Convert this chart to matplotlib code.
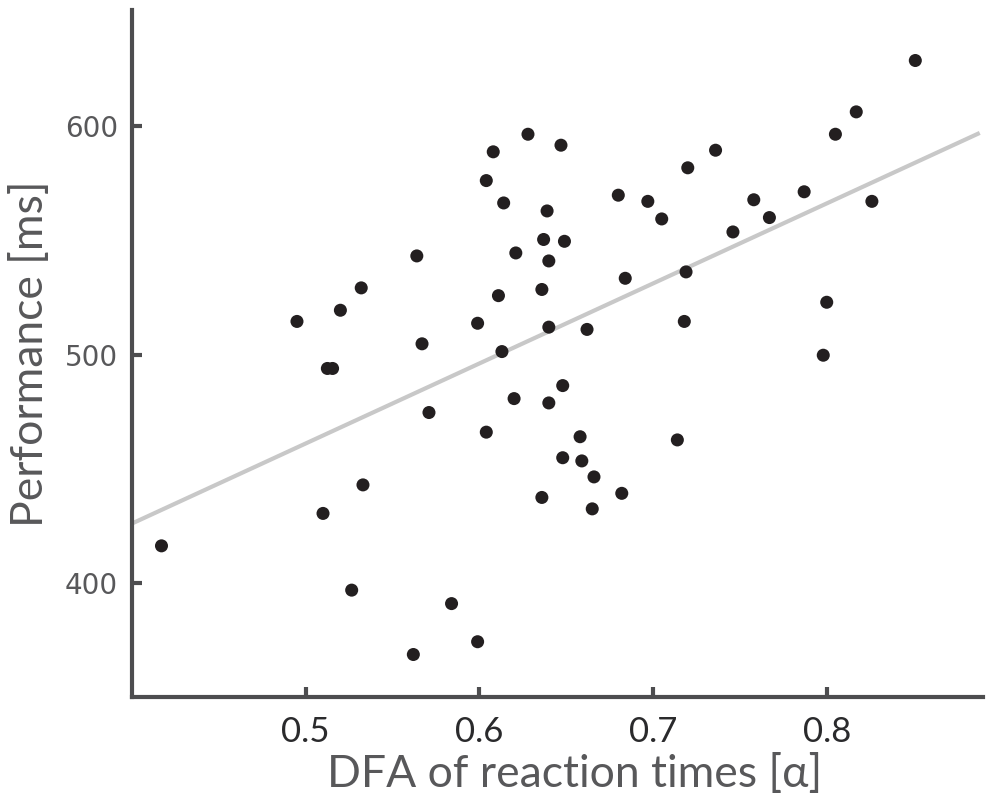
import numpy as np
import matplotlib.pyplot as plt

# DFA exponent of reaction times vs. performance
dfa_alpha = [
    0.628, 0.647, 0.608, 0.604, 0.614, 0.639, 0.637, 0.649, 0.621, 0.640,
    0.564, 0.532, 0.520, 0.495, 0.611, 0.636, 0.599, 0.567, 0.640, 0.613,
    0.851, 0.817, 0.805, 0.736, 0.720, 0.680, 0.697, 0.705, 0.758, 0.767,
    0.787, 0.826, 0.746, 0.684, 0.719, 0.800, 0.718, 0.662, 0.798, 0.5125,
    0.5155, 0.648, 0.620, 0.640, 0.571, 0.604, 0.648, 0.533, 0.510, 0.636,
    0.417, 0.5265, 0.584, 0.599, 0.562, 0.658, 0.714, 0.659, 0.666, 0.682,
    0.665,
]
performance_ms = [
    596.5, 591.7, 588.8, 576.2, 566.4, 562.9, 550.4, 549.6, 544.5, 541.0,
    543.2, 529.2, 519.4, 514.5, 525.8, 528.5, 513.7, 504.7, 512.0, 501.3,
    628.8, 606.3, 596.5, 589.5, 581.8, 569.8, 567.1, 559.4, 567.8, 560.0,
    571.3, 567.1, 553.7, 533.4, 536.2, 522.9, 514.5, 511.0, 499.7, 493.9,
    493.9, 486.4, 480.7, 478.8, 474.6, 466.0, 454.8, 442.9, 430.4, 437.4,
    416.2, 396.8, 390.9, 374.2, 368.6, 464.0, 462.6, 453.4, 446.4, 439.2,
    432.4,
]
x_ticks = [0.5, 0.6, 0.7, 0.8]
y_ticks = [400, 500, 600]

axis_col = "#4d4d4f"
text_col = "#58585a"
label_font = ["Lato", "DejaVu Sans"]

fig = plt.figure(figsize=(9.87, 7.99), dpi=100)
ax = fig.add_axes([0.1337, 0.1277, 0.8623, 0.86])

# Least-squares fit line
x = np.array(dfa_alpha)
y = np.array(performance_ms)
slope, intercept = np.polyfit(x, y, 1)
fit_x = np.array([0.40, 0.887])
ax.plot(fit_x, slope * fit_x + intercept, color="#c8c8c8", linewidth=3, zorder=1)

ax.scatter(x, y, s=88, color="#231f20", edgecolors="none", zorder=2)

ax.set_xlim(0.40, 0.89)
ax.set_ylim(350, 651)
ax.set_xticks(x_ticks)
ax.set_xticklabels([f"{t:.1f}" for t in x_ticks])
ax.set_yticks(y_ticks)

for side in ["top", "right"]:
    ax.spines[side].set_visible(False)
for side in ["left", "bottom"]:
    ax.spines[side].set_linewidth(3)
    ax.spines[side].set_color(axis_col)

ax.tick_params(direction="in", length=7, width=3, color=axis_col)
ax.tick_params(axis="x", pad=14, labelcolor="#2a2a2c")
ax.tick_params(axis="y", pad=10, labelcolor=text_col)
for lbl in ax.get_xticklabels():
    lbl.set_family(label_font)
    lbl.set_fontsize(25)
for lbl in ax.get_yticklabels():
    lbl.set_family("DejaVu Sans")
    lbl.set_fontsize(20)

ax.set_xlabel("DFA of reaction times [α]", fontsize=32, color=text_col,
              family=label_font, labelpad=4, x=0.52)
ax.set_ylabel("Performance [ms]", fontsize=32, color=text_col,
              family=label_font, labelpad=10)

fig.savefig("out.png", dpi=100)
